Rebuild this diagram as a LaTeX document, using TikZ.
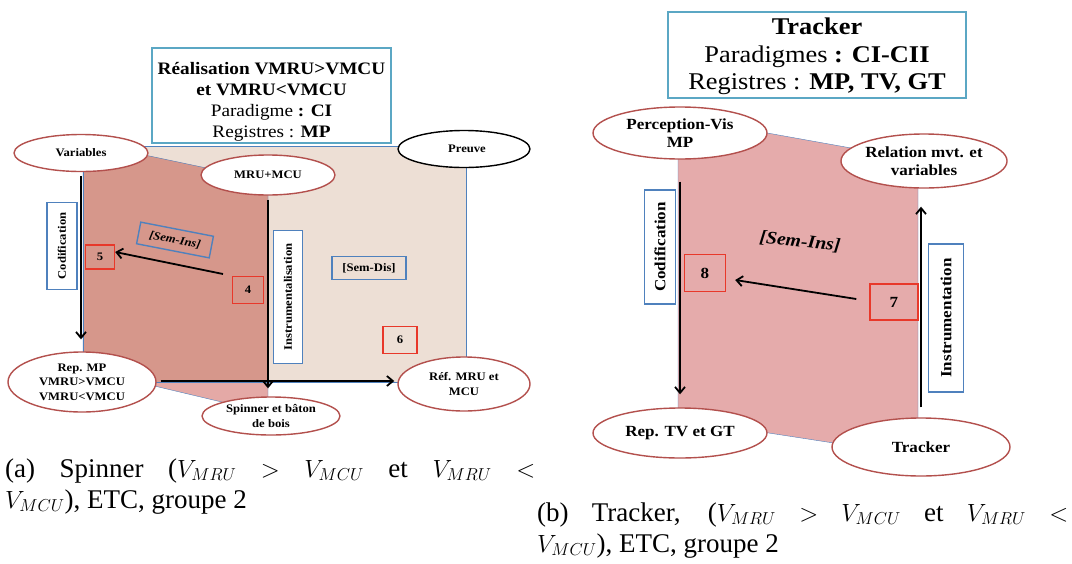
\documentclass[tikz,border=0pt]{standalone}
\usepackage{fontspec}
\setmainfont{Liberation Serif}[FakeStretch=1.1]
\newfontfamily\capfont{Liberation Serif}
\usetikzlibrary{shapes.geometric,arrows.meta}
\definecolor{ellred}{HTML}{B3504D}
\definecolor{numred}{HTML}{E8382A}
\definecolor{boxblue}{HTML}{4F81BD}
\definecolor{topblue}{HTML}{5BA7C4}
\definecolor{beige}{HTML}{EDDFD5}
\definecolor{pinkL}{HTML}{E4A9A6}
\definecolor{pinkD}{HTML}{D6978B}
\definecolor{pinkR}{HTML}{E5ABAB}
\begin{document}
\begin{tikzpicture}[x=1pt,y=-1pt,
  ell/.style={ellipse, draw=ellred, line width=1.4pt, fill=white, inner sep=0pt, align=center, font=\bfseries},
  lsmall/.style={font=\bfseries\fontsize{11.5}{14.5}\selectfont},
  rsmall/.style={font=\bfseries\fontsize{15.5}{18}\selectfont},
  numbox/.style={draw=numred, line width=1.4pt, inner sep=0pt},
  lblbox/.style={draw=boxblue, line width=1.4pt, fill=white, inner sep=0pt},
  semlbl/.style={draw=boxblue, line width=1.4pt, inner sep=0pt},
  topbox/.style={draw=topblue, line width=2pt},
  thinblue/.style={draw=boxblue, line width=0.4pt},
  arr/.style={-{Straight Barb[length=6pt,width=10pt]}, line width=1.8pt, black},
  captxt/.style={font=\capfont\fontsize{27}{32}\selectfont, inner sep=0pt, anchor=base west}]
\useasboundingbox (0,0) rectangle (1072,563);

% ---------- left regions
\fill[beige] (83,146) rectangle (466,382);
\fill[pinkL] (83,142) -- (268,181) -- (268,413) -- (83,369) -- cycle;
\begin{scope}
  \clip (83,146) rectangle (466,382);
  \fill[pinkD] (83,142) -- (268,181) -- (268,413) -- (83,369) -- cycle;
\end{scope}
\draw[thinblue] (83,146) rectangle (466,382);
\draw[thinblue] (83,142) -- (268,181) -- (268,413) -- (83,369) -- cycle;

% ---------- right region
\fill[pinkR] (678,117) -- (918,160) -- (918,456) -- (678,419) -- cycle;
\draw[thinblue] (678,117) -- (918,160) -- (918,456) -- (678,419) -- cycle;

% ---------- left top box
\node[align=center, anchor=north, inner sep=0pt, font=\fontsize{17.5}{21}\selectfont] (tlt) at (271.5,62.5)
  {\textbf{Réalisation VMRU>VMCU}\\\textbf{et VMRU<VMCU}\\Paradigme \textbf{: CI}\\Registres : \textbf{MP}};
\node[topbox, minimum width=239, minimum height=95] (tlb) at (271.5,95.5) {};

% ---------- left ellipses
\node[ell, lsmall, minimum width=134, minimum height=37] (var) at (81,153) {Variables};
\node[ell, lsmall, minimum width=134, minimum height=40] (mru) at (268,175) {MRU+MCU};
\node[ell, lsmall, draw=black, minimum width=132, minimum height=37] (preuve) at (464,149) {\hspace*{6pt}Preuve};
\node[ell, lsmall, minimum width=148, minimum height=60] (rep) at (82,382) {Rep. MP\\VMRU>VMCU\\VMRU<VMCU};
\node[ell, lsmall, minimum width=138, minimum height=38] (spin) at (271,416) {Spinner et bâton\\de bois};
\node[ell, lsmall, minimum width=132, minimum height=54] (ref) at (464,384) {Réf. MRU et\\MCU};

% ---------- left boxes
\node[lblbox, lsmall, rotate=90, minimum width=87, minimum height=30] (codL) at (62,246) {Codification};
\node[lblbox, lsmall, rotate=90, minimum width=133, minimum height=29] (instL) at (288,297) {Instrumentalisation};
\node[numbox, lsmall, minimum width=29, minimum height=24] (b5) at (100,257) {5};
\node[numbox, lsmall, minimum width=31, minimum height=27] (b4) at (248,290) {4};
\node[numbox, lsmall, minimum width=34, minimum height=27] (b6) at (400,340) {6};
\node[semlbl, lsmall, rotate=-11, minimum width=74, minimum height=22] (semIL) at (175,240) {\itshape [Sem-Ins]};
\node[semlbl, lsmall, minimum width=74, minimum height=23] (semD) at (369,268) {[Sem-Dis]};

% ---------- left arrows
\draw[arr, shorten <=4pt, shorten >=12pt] (var.south) -- (var.south |- rep.north);
\draw[arr, shorten <=4pt, shorten >=8pt] (mru.south) -- (mru.south |- spin.north);
\coordinate (a4) at (223,274);
\draw[arr] (a4) -- ([yshift=5pt]b5.east);
\draw[arr, shorten >=3pt] ([xshift=4pt,yshift=1pt]rep.east) -- ([yshift=1pt]rep.east -| ref.west);

% ---------- right top box
\node[align=center, anchor=north, inner sep=0pt, font=\fontsize{24}{27.5}\selectfont] (trt) at (817,18)
  {\textbf{Tracker}\\Paradigmes \textbf{: CI-CII}\\Registres : \textbf{MP, TV, GT}};
\node[topbox, minimum width=298, minimum height=86] (trb) at (817,55) {};

% ---------- right ellipses
\node[ell, rsmall, minimum width=174, minimum height=52] (per) at (680,133) {Perception-Vis\\MP};
\node[ell, rsmall, minimum width=162, minimum height=54] (rel) at (924,161) {Relation mvt. et\\variables};
\node[ell, rsmall, minimum width=174, minimum height=50] (reptv) at (680,433) {Rep. TV et GT};
\node[ell, rsmall, minimum width=178, minimum height=58] (trk) at (921,447) {Tracker};

% ---------- right boxes
\node[lblbox, rsmall, rotate=90, minimum width=114, minimum height=31] (codR) at (660,247) {Codification};
\node[lblbox, rsmall, rotate=90, minimum width=148, minimum height=35] (instR) at (946,318) {Instrumentation};
\node[numbox, rsmall, minimum width=41, minimum height=37] (b8) at (705,273) {8};
\node[numbox, rsmall, minimum width=48, minimum height=36] (b7) at (894,302) {7};
\node[rotate=-6, inner sep=0pt, font=\bfseries\itshape\fontsize{18}{20}\selectfont] (semIR) at (800,242) {[Sem-Ins]};

% ---------- right arrows
\draw[arr, shorten <=22pt, shorten >=13pt] (per.south) -- (per.south |- reptv.north);
\draw[arr, shorten <=10pt, shorten >=18pt] (trk.north) -- (trk.north |- rel.south);
\draw[arr] ([xshift=-13pt,yshift=3pt]b7.west) -- ([xshift=9pt,yshift=-7pt]b8.east);

% ---------- captions
\node[captxt] (capa1) at (5,477) {\makebox[530pt][s]{(a) Spinner ($V_{MRU}$ $>$ $V_{MCU}$ et $V_{MRU}$ $<$}};
\node[captxt] (capa2) at (5,508) {$V_{MCU}$), ETC, groupe 2};
\node[captxt] (capb1) at (537,521) {\makebox[531pt][s]{(b) Tracker, ($V_{MRU}$ $>$ $V_{MCU}$ et $V_{MRU}$ $<$}};
\node[captxt] (capb2) at (537,552) {$V_{MCU}$), ETC, groupe 2};
\end{tikzpicture}
\end{document}
